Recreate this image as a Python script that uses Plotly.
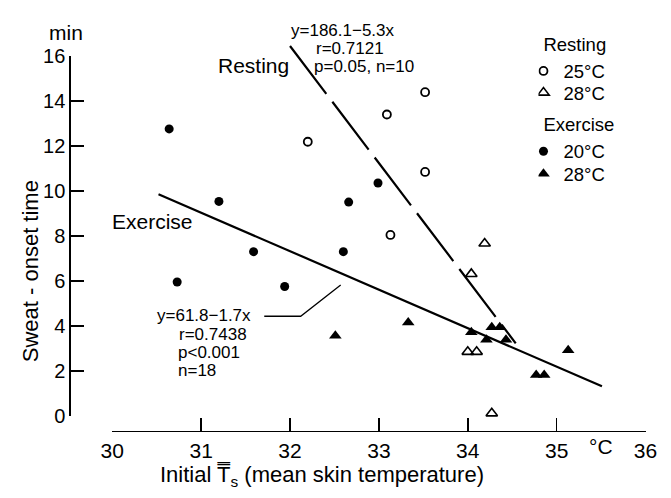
import plotly.graph_objects as go

W, H = 671, 498
FONT = "Liberation Sans, Arial, sans-serif"

# ---- data ----
rest25_x = [32.20, 33.09, 33.52, 33.52, 33.13]
rest25_y = [12.19, 13.40, 14.39, 10.85, 8.05]
rest28_x = [34.19, 34.04, 34.00, 34.10, 34.27]
rest28_y = [7.67, 6.32, 2.86, 2.86, 0.13]
ex20_x = [30.64, 31.20, 32.66, 32.99, 30.73, 31.94, 31.59, 32.60]
ex20_y = [12.76, 9.54, 9.51, 10.36, 5.96, 5.76, 7.31, 7.31]
ex28_x = [32.51, 33.33, 34.04, 34.21, 34.27, 34.36, 34.43, 35.13, 34.77, 34.86]
ex28_y = [3.57, 4.16, 3.73, 3.40, 3.95, 3.95, 3.40, 2.93, 1.83, 1.83]

rest_line_x = [32.00, 34.54]
rest_line_y = [16.44, 3.24]
ex_line_x = [30.52, 35.51]
ex_line_y = [9.86, 1.33]
pointer_x = [31.71, 32.12, 32.57]
pointer_y = [4.44, 4.44, 5.83]

x_ticks = [30, 31, 32, 33, 34, 35, 36]
y_ticks = [0, 2, 4, 6, 8, 10, 12, 14, 16]

# ---- layout geometry (pixels -> paper) ----
def px(xp):
    return xp / W

def py(yp):
    return 1 - yp / H

X0, X1 = 104, 657        # pixel of x=30 and x=36
Y0, Y16 = 424, 47        # pixel of y=0 and y=16
ppu_y = (Y0 - Y16) / 16.0
Y2TOP = 17.5
y2_top_px = Y0 - Y2TOP * ppu_y

fig = go.Figure()

# regression lines on an invisible overlay subplot with identical scaling
fig.add_trace(go.Scatter(x=rest_line_x, y=rest_line_y, mode="lines", xaxis="x2", yaxis="y2",
                         line=dict(color="black", width=2.2, dash="60px,10px"),
                         showlegend=False, hoverinfo="skip"))
fig.add_trace(go.Scatter(x=ex_line_x, y=ex_line_y, mode="lines", xaxis="x2", yaxis="y2",
                         line=dict(color="black", width=2.2),
                         showlegend=False, hoverinfo="skip"))
fig.add_trace(go.Scatter(x=pointer_x, y=pointer_y, mode="lines", xaxis="x2", yaxis="y2",
                         line=dict(color="black", width=1.3),
                         showlegend=False, hoverinfo="skip"))

# data markers (each series gets its own small legend so rows can sit tightly)
fig.add_trace(go.Scatter(x=rest25_x, y=rest25_y, mode="markers", name="25°C",
                         legend="legend", legendgroup="rest",
                         legendgrouptitle=dict(text="Resting"),
                         marker=dict(symbol="circle-open", size=8, color="black", line=dict(width=1.8)),
                         cliponaxis=False))
fig.add_trace(go.Scatter(x=rest28_x, y=rest28_y, mode="markers", name="28°C",
                         legend="legend2",
                         marker=dict(symbol="triangle-up-open", size=10, color="black", line=dict(width=1.6)),
                         cliponaxis=False))
fig.add_trace(go.Scatter(x=ex20_x, y=ex20_y, mode="markers", name="20°C",
                         legend="legend3", legendgroup="ex",
                         legendgrouptitle=dict(text="Exercise"),
                         marker=dict(symbol="circle", size=9, color="black"),
                         cliponaxis=False))
fig.add_trace(go.Scatter(x=ex28_x, y=ex28_y, mode="markers", name="28°C",
                         legend="legend4",
                         marker=dict(symbol="triangle-up", size=11, color="black"),
                         cliponaxis=False))

axis_common = dict(showline=True, linecolor="black", linewidth=1.8, ticks="inside",
                   ticklen=13, tickwidth=1.6, tickcolor="black", showgrid=False,
                   zeroline=False)

LEG_FS = 18.5
def leg(top):
    return dict(x=px(546), y=py(top), xanchor="left", yanchor="top",
                bgcolor="rgba(0,0,0,0)", font=dict(size=LEG_FS),
                indentation=-15, grouptitlefont=dict(size=LEG_FS))

fig.update_layout(
    width=W, height=H,
    margin=dict(l=0, r=0, t=0, b=0),
    paper_bgcolor="white", plot_bgcolor="rgba(0,0,0,0)",
    font=dict(family=FONT, size=20, color="black"),
    legend=leg(15), legend2=leg(66), legend3=leg(99), legend4=leg(151),
    xaxis=dict(domain=[px(X0), px(X1)], range=[30, 36], anchor="free", position=py(439),
               tickvals=x_ticks, ticktext=[str(t) for t in x_ticks],
               tickfont=dict(size=21), **axis_common),
    yaxis=dict(domain=[py(Y0), py(Y16)], range=[0, 16], anchor="free", position=px(59.5),
               tickvals=y_ticks, ticktext=[str(t) for t in y_ticks],
               tickfont=dict(size=20), **axis_common),
    xaxis2=dict(domain=[px(X0), px(X1)], range=[30, 36], anchor="y2", visible=False),
    yaxis2=dict(domain=[py(Y0), py(y2_top_px)], range=[0, Y2TOP], anchor="x2", visible=False),
)

def ann(text, x, y, size, xanchor="center", yanchor="middle", angle=0):
    fig.add_annotation(text=text, x=px(x), y=py(y), xref="paper", yref="paper",
                       xanchor=xanchor, yanchor=yanchor, showarrow=False,
                       textangle=angle, font=dict(size=size, family=FONT, color="black"))

ann("min", 56, 22, 21)
ann("°C", 611, 456, 21)
ann("Initial T\u033f<sub>s</sub> (mean skin temperature)", 322, 487, 22)
ann("Sweat - onset time", 20, 272, 22, angle=-90)
ann("Resting", 250, 57, 21)
ann("Exercise", 146, 220, 21)
ann("y=186.1\u22125.3x", 287, 20, 17, xanchor="left")
ann("r=0.7121", 313, 39, 17, xanchor="left")
ann("p=0.05, n=10", 311, 58, 17, xanchor="left")
ann("y=61.8\u22121.7x", 148, 319, 17, xanchor="left")
ann("r=0.7438", 171, 338, 17, xanchor="left")
ann("p<0.001", 170, 357, 17, xanchor="left")
ann("n=18", 170, 376, 17, xanchor="left")

fig.write_html(
    "out.html",
    config={"displayModeBar": False, "staticPlot": True},
    post_script=(
        "document.documentElement.style.margin='0';"
        "document.body.style.margin='0';"
        "document.body.style.overflow='hidden';"
        "document.documentElement.style.overflow='hidden';"
    ),
)
